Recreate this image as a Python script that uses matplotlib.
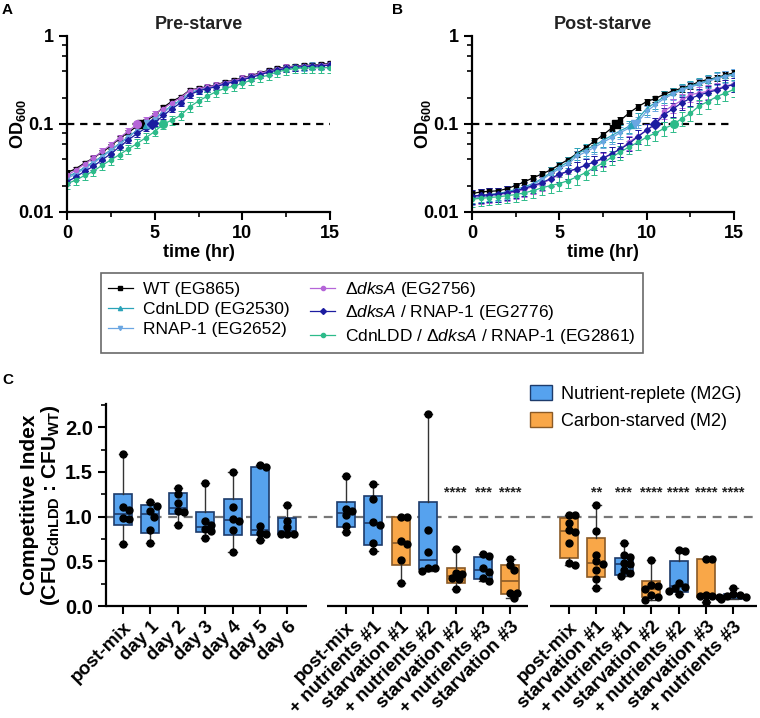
import numpy as np
import matplotlib
matplotlib.use("Agg")
import matplotlib.pyplot as plt
from matplotlib.lines import Line2D
from matplotlib.patches import Patch
from matplotlib.ticker import FixedLocator, MultipleLocator, NullFormatter, FormatStrFormatter

plt.rcParams['font.family'] = ['Liberation Sans', 'DejaVu Sans']
plt.rcParams['mathtext.fontset'] = 'custom'
plt.rcParams['mathtext.rm'] = 'Liberation Sans'
plt.rcParams['mathtext.it'] = 'Liberation Sans:italic'
plt.rcParams['mathtext.bf'] = 'Liberation Sans:bold'

# ---- growth curves (panels A, B) ----
time_hr = np.arange(0, 15.01, 0.5)

strains = ['WT (EG865)', 'CdnLDD (EG2530)', 'RNAP-1 (EG2652)',
           r'Δ$\it{dksA}$ (EG2756)', r'Δ$\it{dksA}$ / RNAP-1 (EG2776)',
           r'CdnLDD / Δ$\it{dksA}$ / RNAP-1 (EG2861)']
strain_colors = ['#000000', '#2aa3b8', '#6aa6e2', '#b565d8', '#1c1ca0', '#2dbb8a']
strain_markers = ['s', '^', 'v', 'o', 'D', 'o']

od_pre = [
    [0.028, 0.031, 0.036, 0.041, 0.048, 0.056, 0.069, 0.080, 0.095, 0.108, 0.126, 0.155, 0.182, 0.204, 0.243, 0.254,
     0.265, 0.277, 0.300, 0.313, 0.335, 0.353, 0.382, 0.406, 0.428, 0.444, 0.455, 0.463, 0.467, 0.476, 0.488],
    [0.025, 0.028, 0.032, 0.037, 0.043, 0.051, 0.060, 0.072, 0.085, 0.098, 0.115, 0.138, 0.163, 0.188, 0.225, 0.245,
     0.258, 0.270, 0.290, 0.305, 0.325, 0.345, 0.370, 0.395, 0.415, 0.432, 0.445, 0.452, 0.458, 0.463, 0.470],
    [0.024, 0.027, 0.031, 0.036, 0.042, 0.050, 0.059, 0.071, 0.084, 0.097, 0.113, 0.135, 0.160, 0.185, 0.222, 0.242,
     0.255, 0.268, 0.288, 0.302, 0.322, 0.342, 0.366, 0.392, 0.412, 0.430, 0.442, 0.450, 0.456, 0.460, 0.468],
    [0.026, 0.030, 0.035, 0.041, 0.049, 0.058, 0.070, 0.083, 0.100, 0.112, 0.130, 0.150, 0.175, 0.200, 0.240, 0.252,
     0.262, 0.275, 0.296, 0.310, 0.330, 0.350, 0.375, 0.400, 0.420, 0.440, 0.450, 0.458, 0.462, 0.470, 0.480],
    [0.022, 0.025, 0.029, 0.033, 0.039, 0.046, 0.055, 0.066, 0.078, 0.090, 0.104, 0.125, 0.150, 0.175, 0.215, 0.238,
     0.252, 0.265, 0.285, 0.300, 0.318, 0.338, 0.362, 0.388, 0.410, 0.428, 0.440, 0.448, 0.454, 0.458, 0.465],
    [0.021, 0.023, 0.026, 0.029, 0.034, 0.039, 0.045, 0.052, 0.060, 0.070, 0.082, 0.100, 0.111, 0.126, 0.157, 0.182,
     0.207, 0.233, 0.254, 0.270, 0.289, 0.316, 0.338, 0.360, 0.393, 0.410, 0.428, 0.432, 0.435, 0.436, 0.437],
]
od_post = [
    [0.0162, 0.0169, 0.0172, 0.0174, 0.0184, 0.020, 0.022, 0.0245, 0.027, 0.030, 0.0345, 0.0394, 0.046, 0.054, 0.0635,
     0.075, 0.090, 0.110, 0.134, 0.157, 0.180, 0.195, 0.218, 0.238, 0.254, 0.275, 0.302, 0.321, 0.335, 0.360, 0.382],
    [0.0148, 0.0153, 0.0158, 0.0162, 0.0170, 0.0180, 0.0193, 0.021, 0.024, 0.028, 0.0325, 0.037, 0.046, 0.051, 0.057,
     0.065, 0.074, 0.084, 0.094, 0.115, 0.150, 0.175, 0.204, 0.225, 0.249, 0.270, 0.290, 0.312, 0.335, 0.352, 0.370],
    [0.0142, 0.0148, 0.0152, 0.0157, 0.0165, 0.0175, 0.0188, 0.0205, 0.0232, 0.027, 0.031, 0.035, 0.043, 0.048, 0.054,
     0.062, 0.070, 0.080, 0.090, 0.105, 0.140, 0.165, 0.195, 0.218, 0.242, 0.262, 0.283, 0.305, 0.328, 0.345, 0.362],
    [0.0150, 0.0152, 0.0155, 0.0158, 0.0163, 0.0170, 0.0180, 0.0195, 0.021, 0.0235, 0.0265, 0.0288, 0.031, 0.034, 0.037,
     0.040, 0.046, 0.052, 0.0625, 0.073, 0.085, 0.100, 0.140, 0.162, 0.185, 0.215, 0.225, 0.235, 0.250, 0.270, 0.285],
    [0.0152, 0.0155, 0.0157, 0.0160, 0.0166, 0.0174, 0.0185, 0.020, 0.0215, 0.024, 0.027, 0.029, 0.031, 0.034, 0.037,
     0.041, 0.046, 0.052, 0.060, 0.072, 0.085, 0.100, 0.128, 0.148, 0.174, 0.195, 0.213, 0.228, 0.243, 0.265, 0.281],
    [0.0140, 0.0143, 0.0146, 0.0149, 0.0153, 0.0158, 0.0165, 0.0175, 0.0188, 0.020, 0.021, 0.0228, 0.025, 0.028, 0.032,
     0.036, 0.042, 0.048, 0.055, 0.062, 0.071, 0.079, 0.089, 0.098, 0.115, 0.132, 0.160, 0.180, 0.204, 0.225, 0.247],
]
# relative SD per strain
sd_pre = [0.06, 0.08, 0.10, 0.08, 0.08, 0.12]
sd_post = [0.08, 0.15, 0.15, 0.18, 0.18, 0.18]

# ---- competition data (panel C) ----
labels_c = ['post-mix', 'day 1', 'day 2', 'day 3', 'day 4', 'day 5', 'day 6',
            'post-mix', '+ nutrients #1', 'starvation #1', '+ nutrients #2', 'starvation #2', '+ nutrients #3', 'starvation #3',
            'post-mix', 'starvation #1', '+ nutrients #1', 'starvation #2', '+ nutrients #2', 'starvation #3', '+ nutrients #3']
medium_c = ['N'] * 7 + ['N', 'N', 'C', 'N', 'C', 'N', 'C'] + ['C', 'C', 'N', 'C', 'N', 'C', 'N']
points_c = [
    [1.70, 1.11, 1.07, 0.99, 0.97, 0.69],
    [1.16, 1.12, 1.06, 1.00, 0.85, 0.70],
    [1.32, 1.25, 1.15, 1.06, 1.05, 0.91],
    [1.38, 0.95, 0.91, 0.86, 0.84, 0.76],
    [1.50, 1.11, 0.97, 0.95, 0.85, 0.60],
    [1.58, 1.55, 0.89, 0.82, 0.80, 0.74],
    [1.13, 0.95, 0.88, 0.80, 0.80, 0.80],
    [1.45, 1.085, 1.063, 1.014, 0.895, 0.83],
    [1.37, 1.20, 0.935, 0.91, 0.71, 0.61],
    [1.00, 1.00, 0.73, 0.69, 0.52, 0.26],
    [2.15, 0.85, 0.60, 0.42, 0.42, 0.39],
    [0.64, 0.37, 0.36, 0.31, 0.30, 0.19],
    [0.58, 0.56, 0.42, 0.38, 0.31, 0.28],
    [0.53, 0.46, 0.40, 0.15, 0.15, 0.09],
    [1.02, 1.02, 0.925, 0.85, 0.83, 0.70, 0.48, 0.46],
    [1.13, 0.84, 0.57, 0.50, 0.47, 0.40, 0.30, 0.20],
    [0.71, 0.57, 0.55, 0.48, 0.47, 0.40, 0.37, 0.34],
    [0.51, 0.24, 0.22, 0.19, 0.12, 0.10, 0.07],
    [0.63, 0.61, 0.26, 0.21, 0.20, 0.17, 0.13],
    [0.53, 0.53, 0.12, 0.115, 0.11, 0.10, 0.05],
    [0.20, 0.13, 0.12, 0.11, 0.10, 0.09, 0.08],
]
q1_c = [0.906, 0.82, 1.025, 0.824, 0.79, 0.79, 0.80,
        0.88, 0.678, 0.462, 0.41, 0.261, 0.306, 0.13,
        0.533, 0.32, 0.347, 0.097, 0.16, 0.097, 0.078]
med_c = [1.03, 1.03, 1.10, 0.88, 0.96, 0.855, 0.84,
         1.036, 0.925, 0.705, 0.51, 0.336, 0.40, 0.276,
         0.835, 0.48, 0.473, 0.186, 0.22, 0.115, 0.112]
q3_c = [1.25, 1.13, 1.26, 1.05, 1.20, 1.55, 0.99,
        1.167, 1.234, 1.00, 1.167, 0.429, 0.548, 0.458,
        0.988, 0.764, 0.533, 0.28, 0.507, 0.522, 0.134]
stars_c = [''] * 7 + ['', '', '', '', '****', '***', '****'] + ['', '**', '***', '****', '****', '****', '****']

fill = {'N': '#56a2ee', 'C': '#f9a748'}
edge = {'N': '#1d3b6b', 'C': '#8a5a26'}

fig = plt.figure(figsize=(7.6, 7.18), dpi=100)
W, H = 760.0, 718.0


def px_axes(x0, y0, x1, y1):
    return fig.add_axes([x0 / W, 1 - y1 / H, (x1 - x0) / W, (y1 - y0) / H])


def style_axes(ax):
    for s in ['top', 'right']:
        ax.spines[s].set_visible(False)
    for s in ['left', 'bottom']:
        ax.spines[s].set_linewidth(1.6)
    ax.tick_params(which='major', length=6, width=1.5, labelsize=13)
    ax.tick_params(which='minor', length=3.5, width=1.2)
    for lab in ax.get_xticklabels() + ax.get_yticklabels():
        lab.set_fontweight('bold')


def growth_panel(ax, curves, sds, title):
    for y, sd, col, mk in zip(curves, sds, strain_colors, strain_markers):
        y = np.array(y)
        ax.errorbar(time_hr, y, yerr=y * sd, color=col, marker=mk, ms=3.0, lw=0.9,
                    elinewidth=0.7, capsize=2, capthick=0.7)
        # time at which OD reaches 0.1
        tc = np.interp(np.log10(0.1), np.log10(y), time_hr)
        ax.plot(tc, 0.1, marker=mk, ms=5.5, color=col, zorder=6, ls='none')
    ax.axhline(0.1, color='k', ls=(0, (3.3, 2.6)), lw=1.6, zorder=0)
    ax.set_yscale('log')
    ax.set_xlim(0, 15)
    ax.set_ylim(0.01, 1)
    ax.yaxis.set_major_locator(FixedLocator([0.01, 0.1, 1]))
    ax.set_yticklabels(['0.01', '0.1', '1'])
    ax.yaxis.set_minor_locator(FixedLocator([0.02, 0.04, 0.06, 0.08, 0.2, 0.4, 0.6, 0.8]))
    ax.yaxis.set_minor_formatter(NullFormatter())
    ax.set_xticks([0, 5, 10, 15])
    ax.xaxis.set_minor_locator(MultipleLocator(2.5))
    style_axes(ax)
    ax.set_title(title, fontsize=13, fontweight='bold', pad=5, color='#222')
    ax.set_xlabel('time (hr)', fontsize=13, fontweight='bold', labelpad=1)
    ax.set_ylabel(r'OD$_{\mathbf{600}}$', fontsize=13, fontweight='bold')
    ax.yaxis.set_label_coords(-0.15, 0.5)


axA = px_axes(67, 36, 330, 212)
growth_panel(axA, od_pre, sd_pre, 'Pre-starve')
axB = px_axes(472, 36, 734, 212)
growth_panel(axB, od_post, sd_post, 'Post-starve')

handles = [Line2D([], [], color=c, marker=m, ms=3.0, lw=0.9) for c, m in zip(strain_colors, strain_markers)]
leg = fig.legend(handles, strains, ncol=2,
                 loc='center', bbox_to_anchor=(372 / W, 1 - 313 / H), fontsize=12.5,
                 handlelength=1.4, handletextpad=0.6, labelspacing=0.28, columnspacing=1.2,
                 frameon=True, fancybox=False, edgecolor='#444', borderpad=0.4)
leg.get_frame().set_linewidth(1.2)

# ---- panel C ----
axC = px_axes(106, 404, 757, 606)
gap = 8.14
pos = [i + gap * g for g in range(3) for i in range(7)]
stats = []
for pts, a, m, b in zip(points_c, q1_c, med_c, q3_c):
    stats.append({'q1': a, 'med': m, 'q3': b, 'whislo': min(pts), 'whishi': max(pts), 'fliers': []})
bp = axC.bxp(stats, positions=pos, widths=0.66, patch_artist=True, showfliers=False,
             capwidths=0.3, manage_ticks=False)
for k, med in enumerate(medium_c):
    bp['boxes'][k].set_facecolor(fill[med])
    bp['boxes'][k].set_edgecolor(edge[med])
    bp['boxes'][k].set_linewidth(1.2)
    bp['medians'][k].set_color(edge[med])
    bp['medians'][k].set_linewidth(1.2)
for art in bp['whiskers'] + bp['caps']:
    art.set_color('#333')
    art.set_linewidth(1.0)

axC.set_xlim(-0.62, 23.14)
axC.set_ylim(0, 2.26)

# simple beeswarm so the dots do not hide each other
trans = axC.transData
dot_px = 6.0
for k, pts in enumerate(points_c):
    placed = []
    for v in pts:
        xc, yp = trans.transform((pos[k], v))
        for off in [0, 0.5, -0.5, 1, -1, 1.5, -1.5, 2, -2]:
            xo = off * dot_px * 1.05
            if all((xo - px) ** 2 + (yp - py) ** 2 >= (dot_px * 0.95) ** 2 for px, py in placed):
                break
        placed.append((xo, yp))
        xd, _ = trans.inverted().transform((xc + xo, yp))
        axC.plot(xd, v, 'o', color='k', ms=5, zorder=5, clip_on=False)

axC.axhline(1.0, color='#777', ls=(0, (4, 3)), lw=1.6, zorder=0.5)
for k, s in enumerate(stars_c):
    if s:
        axC.text(pos[k], 1.27, s, ha='center', va='center', fontsize=10.5, fontweight='bold', color='#222')

axC.spines['bottom'].set_visible(False)
for x0, x1 in [(-0.62, 6.72), (7.45, 14.78), (15.58, 23.14)]:
    axC.plot([x0, x1], [0, 0], color='k', lw=1.6, clip_on=False, solid_capstyle='butt')
axC.set_xticks(pos)
axC.set_xticklabels(labels_c, rotation=45, ha='right', rotation_mode='anchor')
axC.yaxis.set_major_locator(MultipleLocator(0.5))
axC.yaxis.set_minor_locator(MultipleLocator(0.25))
axC.yaxis.set_major_formatter(FormatStrFormatter('%.1f'))
style_axes(axC)
axC.tick_params(axis='y', labelsize=14.5)
axC.tick_params(axis='x', labelsize=13.5, pad=3)
for lab in axC.get_xticklabels() + axC.get_yticklabels():
    lab.set_fontweight('bold')
axC.set_ylabel('Competitive Index\n' + r'(CFU$_{\mathbf{CdnLDD}}$ : CFU$_{\mathbf{WT}}$)',
               fontsize=15, fontweight='bold', labelpad=2, linespacing=1.0)

leg_c = axC.legend([Patch(facecolor=fill['N'], edgecolor=edge['N']),
                    Patch(facecolor=fill['C'], edgecolor=edge['C'])],
                   ['Nutrient-replete (M2G)', 'Carbon-starved (M2)'],
                   loc='upper left', bbox_to_anchor=(514 / W, 1 - 369 / H), bbox_transform=fig.transFigure,
                   fontsize=13, frameon=False, handlelength=1.2, handleheight=0.9,
                   handletextpad=0.5, labelspacing=0.5)

fig.text(2 / W, 1 - 3 / H, 'A', fontsize=11, fontweight='bold', va='top')
fig.text(392 / W, 1 - 3 / H, 'B', fontsize=11, fontweight='bold', va='top')
fig.text(2 / W, 1 - 373 / H, 'C', fontsize=11, fontweight='bold', va='top')

fig.savefig('out.png', dpi=100)
